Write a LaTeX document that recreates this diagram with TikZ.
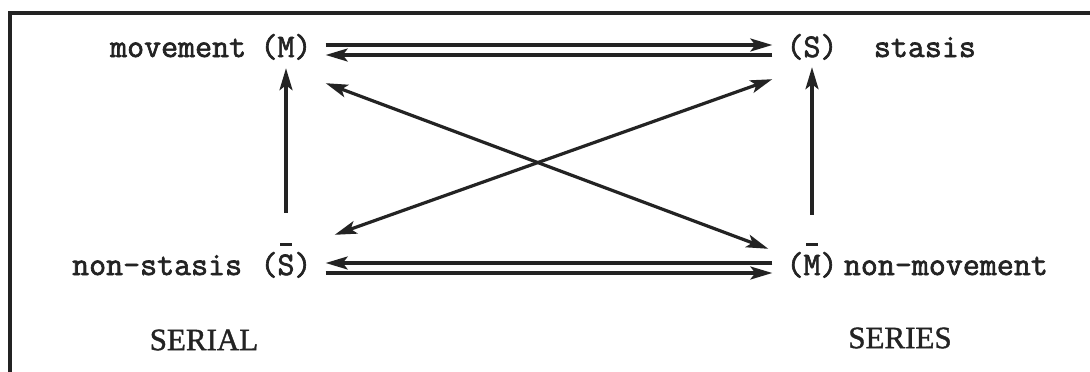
\documentclass[tikz,border=0pt]{standalone}
\usepackage{fontspec}
\usepackage{tikz}
\usetikzlibrary{positioning, arrows.meta}
\newfontfamily\typewriter[FakeBold=2]{Latin Modern Mono}
\newfontfamily\captionfont[FakeBold=1.2]{Liberation Serif}
\definecolor{scan-ink}{HTML}{232323}
% letter with a raised bar over it
\newcommand{\barred}[1]{\rlap{\raisebox{0.88em}{\hspace{0.09em}\rule{0.34em}{0.1em}}}#1}

\begin{document}
\begin{tikzpicture}[
    x=1pt, y=-1pt,
    >={Stealth[length=22pt, width=13pt, inset=5pt]},
    word/.style={inner sep=0pt, font=\typewriter\fontsize{33}{33}\selectfont,
        text height=20pt, text depth=6pt, text=scan-ink},
    letter/.style={word, inner xsep=14pt},
    caption/.style={font=\captionfont\fontsize{31}{31}\selectfont, text=scan-ink},
    link/.style={draw=scan-ink, line width=3.2pt},
    frame/.style={draw=scan-ink, line width=3.6pt},
]
    \useasboundingbox (0,0) rectangle (1090,372);
    \fill[white] (0,0) rectangle (1090,372);

    % Frame (only top and left edges on the scan)
    \draw[frame] (1090,13) -| (10,372);

    % States
    \node[letter] (M) at (286,50) {(M)};
    \node[letter] (S) at (812,50) {(S)};
    \node[letter] (Sbar) at (286,268) {(\barred{S})};
    \node[letter] (Mbar) at (812,268) {(\barred{M})};

    \node[word, left=0pt of M] (movement) {movement};
    \node[word, right=22pt of S] (stasis) {stasis};
    \node[word, left=4pt of Sbar] (nonstasis) {non-stasis};
    \node[word, right=-8pt of Mbar] (nonmovement) {non-movement};

    % Captions
    \node[caption] (serial) at (204,340) {SERIAL};
    \node[caption] (series) at (900,338) {SERIES};

    % Double arrows between the rows
    \draw[link, ->] ([yshift=5pt]M.east) -- ([yshift=5pt]S.west);
    \draw[link, ->] ([yshift=-5pt]S.west) -- ([yshift=-5pt]M.east);
    \draw[link, ->] ([yshift=5pt]Mbar.west) -- ([yshift=5pt]Sbar.east);
    \draw[link, ->] ([yshift=-5pt]Sbar.east) -- ([yshift=-5pt]Mbar.west);

    % Verticals
    \draw[link, ->, shorten <=42pt, shorten >=5pt] (Sbar) -- (M);
    \draw[link, ->, shorten <=40pt, shorten >=4pt] (Mbar) -- (S);

    % Diagonals
    \draw[link, <->] ([shift={(0,20)}]M.south east) -- ([shift={(-4,-6)}]Mbar.north west);
    \draw[link, <->] ([shift={(0,16)}]S.south west) -- ([shift={(9,-20)}]Sbar.north east);

\end{tikzpicture}
\end{document}
